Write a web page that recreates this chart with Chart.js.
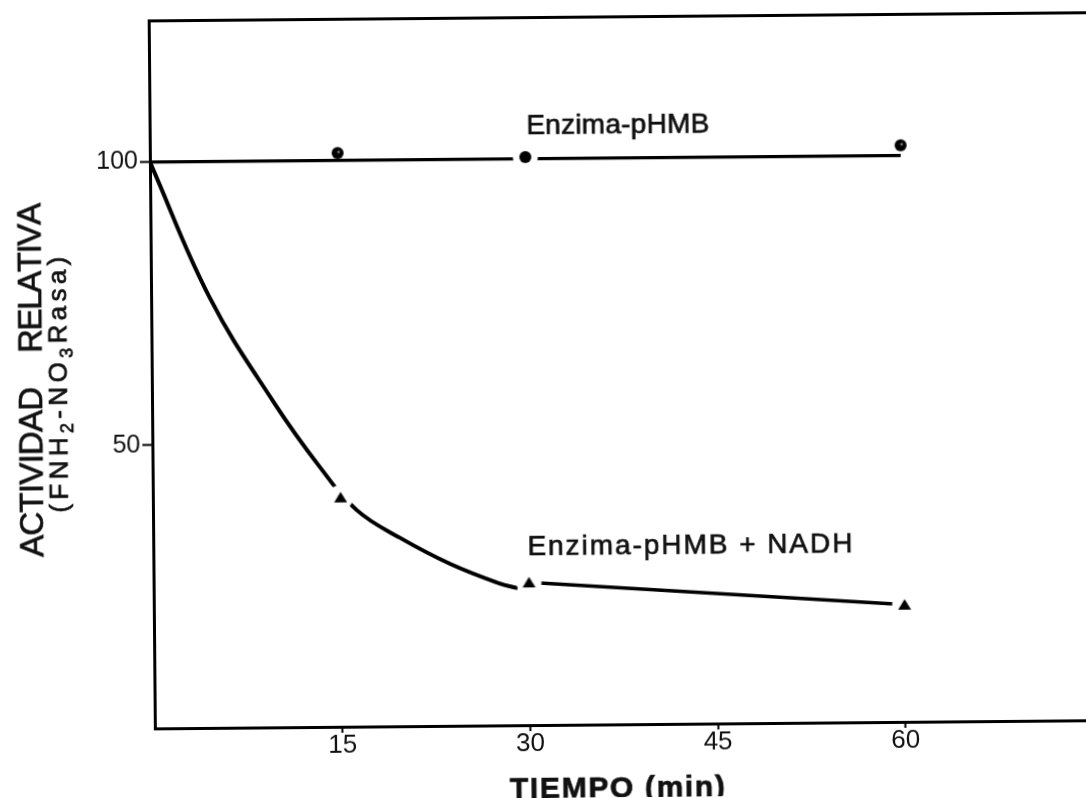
<!DOCTYPE html>
<html>
<head>
<meta charset="utf-8">
<script src="https://cdn.jsdelivr.net/npm/chart.js@4.4.1/dist/chart.umd.min.js"></script>
<style>
  html, body { margin: 0; padding: 0; background: #fff; overflow: hidden; width: 1086px; height: 798px; }
  #frame { position: absolute; left: 0; top: 0; width: 1110px; height: 798px;
           transform-origin: 543px 399px; transform: rotate(-0.5deg); }
  canvas { display: block; }
</style>
</head>
<body>
<div id="frame"><canvas id="c" width="1110" height="798"></canvas></div>
<script>
// Sampling times (min) and measured relative activities
const times = [15, 30, 60];
const phmbValues = [101.3, 100.3, 101.8];   // Enzima-pHMB
const nadhValues = [40.5, 25.2, 20.7];      // Enzima-pHMB + NADH

// Reference line for Enzima-pHMB
const phmbLineTimes = [0, 60];
const phmbLineValues = [100, 100];

// Hand-drawn decay curve for Enzima-pHMB + NADH (0 -> 30 min)
const decayTimes  = [0, 4.7, 9.7, 13.4, 16.3, 19.7, 23.7, 27.6, 29.1];
const decayValues = [100, 75.9, 57.5, 45.8, 38.2, 33.3, 28.6, 25.1, 24.2];

// Axis ticks
const xTickValues = [15, 30, 45, 60];
const yTickValues = [50, 100];

const FONT = "'Liberation Sans', Arial, Helvetica, sans-serif";

const pts = (xs, ys) => xs.map((x, i) => ({ x, y: ys[i] }));

// Marker glyphs; the white halo opens a small gap in the curve behind them
function markerGlyph(kind, halo) {
  const c = document.createElement('canvas');
  c.width = 28; c.height = 28;
  const g = c.getContext('2d');
  if (halo) {
    g.fillStyle = '#fff';
    g.beginPath(); g.arc(14, 14, 12.5, 0, Math.PI * 2); g.fill();
  }
  g.fillStyle = '#000';
  g.beginPath();
  if (kind === 'tri') {
    g.moveTo(14, 8.5); g.lineTo(20.5, 19); g.lineTo(7.5, 19); g.closePath();
    g.fill();
  } else {
    g.arc(14, 14, 6, 0, Math.PI * 2);
    g.fill();
    if (!halo) {
      g.fillStyle = '#777';
      g.beginPath(); g.arc(15, 13, 1.4, 0, Math.PI * 2); g.fill();
    }
  }
  return c;
}
const triHalo = markerGlyph('tri', true);
const dotHalo = markerGlyph('dot', true);
const dotPlain = markerGlyph('dot', false);

// Draw text char by char so it spans a given length
function spanText(ctx, parts, length) {
  let natural = 0, count = 0;
  parts.forEach(p => { ctx.font = p.font; for (const ch of p.t) { natural += ctx.measureText(ch).width; count++; } });
  const gap = count > 1 ? (length - natural) / (count - 1) : 0;
  let x = 0;
  parts.forEach(p => {
    ctx.font = p.font;
    for (const ch of p.t) {
      ctx.fillText(ch, x, p.dy || 0);
      ctx.strokeText(ch, x, p.dy || 0);
      x += ctx.measureText(ch).width + gap;
    }
  });
}

const textLayer = {
  id: 'textLayer',
  afterDraw(chart) {
    const ctx = chart.ctx;
    const xs = chart.scales.x, ys = chart.scales.y;
    ctx.save();
    ctx.fillStyle = '#111';
    ctx.strokeStyle = '#111';
    ctx.lineWidth = 0.7;
    ctx.textBaseline = 'alphabetic';
    ctx.textAlign = 'left';

    // Curve labels
    const labels = [
      { text: 'Enzima-pHMB', t: 30.1, v: 104.4, len: 183 },
      { text: 'Enzima-pHMB + NADH', t: 29.9, v: 30.0, len: 325 }
    ];
    labels.forEach(l => {
      ctx.save();
      ctx.translate(xs.getPixelForValue(l.t), ys.getPixelForValue(l.v));
      spanText(ctx, [{ t: l.text, font: `28px ${FONT}` }], l.len);
      ctx.restore();
    });

    // X axis title
    ctx.save();
    ctx.translate(506.6, 797.6);
    spanText(ctx, [{ t: 'TIEMPO (min)', font: `bold 30px ${FONT}` }], 215);
    ctx.restore();

    // Y axis title, first line
    const big = `33px ${FONT}`;
    ctx.save();
    ctx.translate(42.2, 552.5); ctx.rotate(-Math.PI / 2);
    spanText(ctx, [{ t: 'ACTIVIDAD', font: big }], 170);
    ctx.restore();
    ctx.save();
    ctx.translate(42.2, 348.5); ctx.rotate(-Math.PI / 2);
    spanText(ctx, [{ t: 'RELATIVA', font: big }], 150);
    ctx.restore();

    // Y axis title, second line with subscripts
    const mid = `26px ${FONT}`, sub = `18px ${FONT}`;
    ctx.save();
    ctx.translate(66.9, 508.5); ctx.rotate(-Math.PI / 2);
    spanText(ctx, [
      { t: '(FNH', font: mid }, { t: '2', font: sub, dy: 6 },
      { t: '-NO', font: mid }, { t: '3', font: sub, dy: 6 },
      { t: 'Rasa)', font: mid }
    ], 256);
    ctx.restore();

    ctx.restore();
  }
};

new Chart(document.getElementById('c'), {
  type: 'scatter',
  data: {
    datasets: [
      {
        label: 'Enzima-pHMB + NADH',
        data: pts(times, nadhValues),
        showLine: false,
        pointStyle: [triHalo, triHalo, triHalo],
        pointRadius: 6
      },
      {
        label: 'Enzima-pHMB',
        data: pts(times, phmbValues),
        showLine: false,
        pointStyle: [dotPlain, dotHalo, dotPlain],
        pointRadius: 6
      },
      {
        label: 'pHMB line',
        data: pts(phmbLineTimes, phmbLineValues),
        showLine: true,
        borderColor: '#000',
        borderWidth: 3.2,
        pointRadius: 0
      },
      {
        label: 'NADH decay',
        data: pts(decayTimes, decayValues),
        showLine: true,
        borderColor: '#000',
        borderWidth: 4,
        tension: 0.4,
        pointRadius: 0
      },
      {
        label: 'NADH plateau',
        data: pts(times.slice(1), nadhValues.slice(1)),
        showLine: true,
        borderColor: '#000',
        borderWidth: 3.6,
        pointRadius: 0
      }
    ]
  },
  options: {
    responsive: false,
    devicePixelRatio: 1,
    animation: false,
    layout: { padding: { top: 15, left: 0, right: 6, bottom: 0 } },
    plugins: { legend: { display: false }, tooltip: { enabled: false } },
    scales: {
      x: {
        type: 'linear', position: 'bottom', min: 0, max: 76,
        afterBuildTicks: s => { s.ticks = xTickValues.map(v => ({ value: v })); },
        afterFit: s => { s.height = 73; },
        border: { display: true, color: '#000', width: 3 },
        grid: { drawOnChartArea: false, drawTicks: true, tickLength: 6, tickColor: '#000', tickWidth: 2 },
        ticks: { color: '#111', padding: 0, font: { family: FONT, size: 26, lineHeight: 1 } }
      },
      xTop: {
        type: 'linear', position: 'top', min: 0, max: 76,
        afterFit: s => { s.height = 0; },
        border: { display: true, color: '#000', width: 3 },
        grid: { display: false },
        ticks: { display: false }
      },
      y: {
        type: 'linear', position: 'left', min: 0, max: 125,
        afterBuildTicks: s => { s.ticks = yTickValues.map(v => ({ value: v })); },
        afterFit: s => { s.width = 152; },
        border: { display: true, color: '#000', width: 3 },
        grid: { drawOnChartArea: false, drawTicks: true, tickLength: 10, tickColor: '#000', tickWidth: 2 },
        ticks: { color: '#111', padding: 2, font: { family: FONT, size: 25 } }
      }
    }
  },
  plugins: [textLayer]
});
</script>
</body>
</html>
